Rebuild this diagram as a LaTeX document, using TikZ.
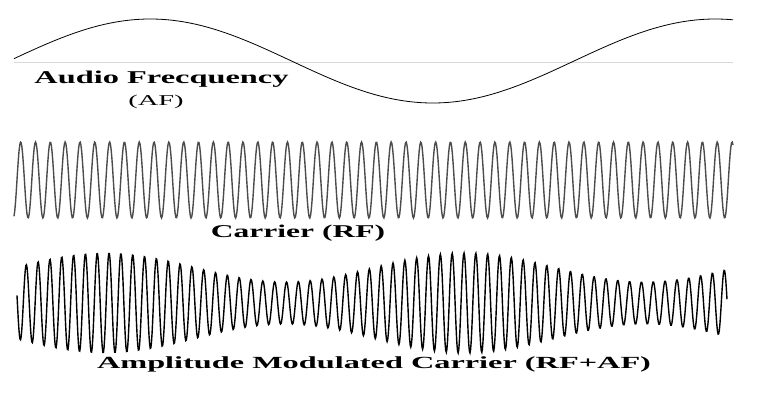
\documentclass[tikz,border=0pt]{standalone}
\usepackage{fontspec}
\setmainfont{Liberation Serif}
\usepackage{graphicx}
\newcommand{\wide}[2]{\scalebox{#1}[1]{#2}}

\begin{document}
\begin{tikzpicture}[x=1pt, y=-1pt,
  afwave/.style={line width=0.8pt, black},
  rfwave/.style={line width=1.4pt, black!70},
  amwave/.style={line width=1.4pt, black},
  axisline/.style={line width=1pt, black!15},
  caption/.style={inner sep=0pt, anchor=base, font=\bfseries\fontsize{18}{20}\selectfont}]

\useasboundingbox (0,0) rectangle (760,410);

% audio frequency
\draw[axisline] (14,62) -- (733,62);
\draw[afwave] plot[domain=14:733, samples=200, smooth] (\x, {61 - 42*sin((\x-9)/565*360)});
\node[caption] (af) at (161.5,83) {\wide{1.8}{Audio Frecquency}};
\node[caption, font=\mdseries\fontsize{15}{17}\selectfont] (afshort) at (156,105) {\wide{1.9}{(AF)}};

% carrier
\draw[rfwave] plot[domain=14:733, samples=1000] (\x, {180 - 38*cos(360*mod(\x-20.7,14.82)/14.82)});
\node[caption] (rf) at (298,237) {\wide{1.75}{Carrier (RF)}};

% modulated carrier
\draw[amwave] plot[domain=17:727, samples=1200] (\x, {303 - (35.5 + 14.5*cos(\x-105))*cos(360*mod(\x-393,11.83)/11.83)});
\node[caption, font=\bfseries\fontsize{17}{19}\selectfont] (am) at (374,368) {\wide{1.9}{Amplitude Modulated Carrier (RF+AF)}};
\end{tikzpicture}
\end{document}
